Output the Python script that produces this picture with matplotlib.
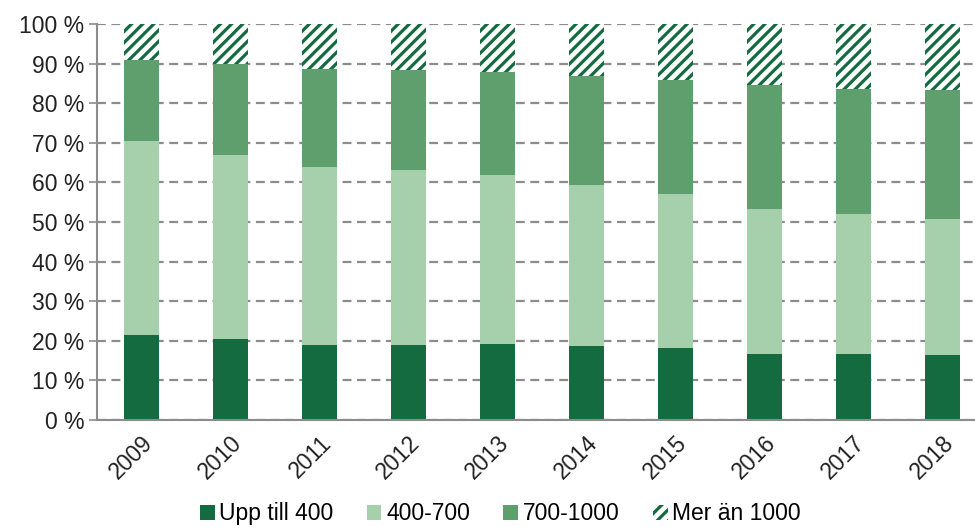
import numpy as np
import matplotlib
matplotlib.use('Agg')
import matplotlib.pyplot as plt
from matplotlib.transforms import ScaledTranslation

plt.rcParams['font.family'] = ['Liberation Sans', 'DejaVu Sans']
plt.rcParams['hatch.linewidth'] = 2.3

years = ['2009', '2010', '2011', '2012', '2013', '2014', '2015', '2016', '2017', '2018']
# cumulative tops (%)
upp_400 = np.array([21.5, 20.4, 18.9, 18.9, 19.2, 18.8, 18.2, 16.7, 16.7, 16.5])
top_700 = np.array([70.5, 67.0, 64.0, 63.1, 61.9, 59.3, 57.0, 53.3, 52.0, 50.8])
top_1000 = np.array([90.9, 89.8, 88.6, 88.4, 87.9, 86.9, 85.9, 84.5, 83.7, 83.3])

s_400_700 = top_700 - upp_400
s_700_1000 = top_1000 - top_700
s_over_1000 = 100 - top_1000

labels = ['Upp till 400', '400-700', '700-1000', 'Mer än 1000']
colors = ['#146b3f', '#a6d0ab', '#5f9f6e']

fig = plt.figure(figsize=(9.75, 5.29), dpi=100)
ax = fig.add_axes([0.0995, 0.206, 0.9128, 0.7486])

x = np.arange(len(years))
w = 0.393
ax.bar(x, upp_400, w, color=colors[0], label=labels[0], zorder=2)
ax.bar(x, s_400_700, w, bottom=upp_400, color=colors[1], label=labels[1], zorder=2)
ax.bar(x, s_700_1000, w, bottom=top_700, color=colors[2], label=labels[2], zorder=2)
ax.bar(x, s_over_1000, w, bottom=top_1000, color='white', hatch='///',
       edgecolor=colors[0], linewidth=0, label=labels[3], zorder=2)

ax.set_xlim(-0.5, 9.5)
ax.set_ylim(0, 100)
ax.set_yticks(np.arange(0, 101, 10))
ax.set_yticklabels([f'{v} %' for v in range(0, 101, 10)], fontsize=16.5, color='#222222')
ax.set_xticks(x)
ax.set_xticklabels(years, rotation=45, ha='right', va='top', rotation_mode='anchor',
                   fontsize=16.5, color='#222222')
shift = ScaledTranslation(-6 / 100, 0, fig.dpi_scale_trans)
for lbl in ax.get_xticklabels():
    lbl.set_transform(lbl.get_transform() + shift)
ax.tick_params(axis='x', length=0, pad=8)
ax.tick_params(axis='y', length=6, width=1.2, color='#8c8c8c', pad=3)

ax.yaxis.grid(True, linestyle=(0, (4, 2.5)), color='#8c8c8c', linewidth=1.6, zorder=0)
ax.set_axisbelow(True)
for side in ['top', 'right']:
    ax.spines[side].set_visible(False)
for side in ['left', 'bottom']:
    ax.spines[side].set_color('#8c8c8c')
    ax.spines[side].set_linewidth(1.5)

fig.legend(loc='lower center', bbox_to_anchor=(0.513, -0.032), ncol=4, frameon=False,
           fontsize=16.5, handlelength=0.65, handleheight=0.65, handletextpad=0.2,
           columnspacing=1.45)

fig.savefig('out.png', dpi=100)
